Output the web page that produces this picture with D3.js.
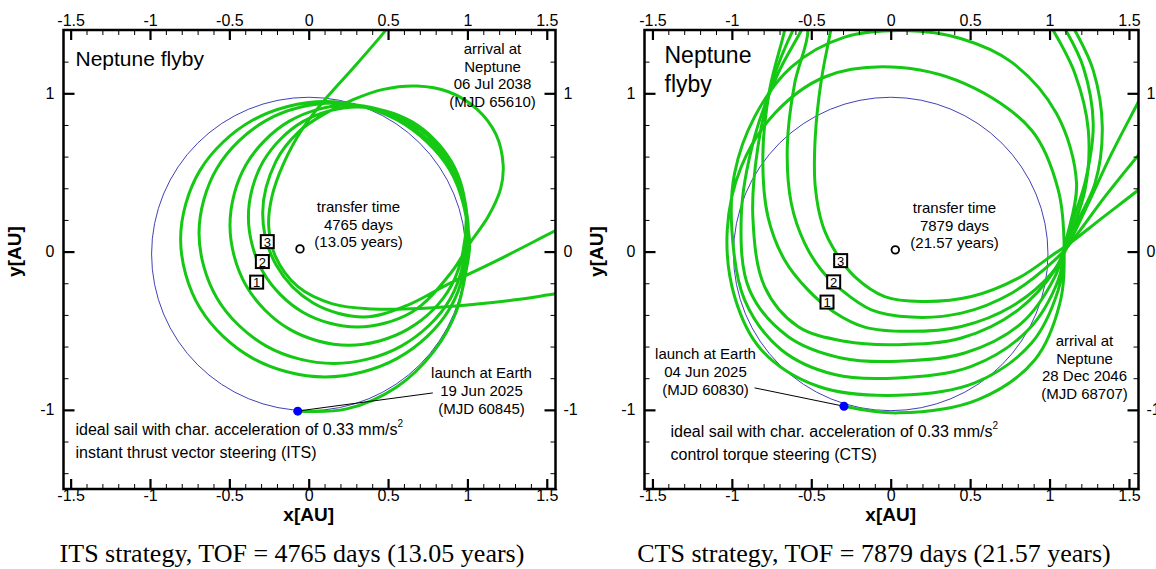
<!DOCTYPE html>
<html><head><meta charset="utf-8">
<script src="https://cdn.jsdelivr.net/npm/d3@7/dist/d3.min.js"></script>
<style>
body{margin:0;background:#fff;}
</style></head><body>
<svg id="chart" width="1156" height="569" font-family="Arial, 'Liberation Sans', sans-serif"></svg>
<script>
// ---------- tick values ----------
const xMajorTicks = [-1.5, -1, -0.5, 0, 0.5, 1, 1.5];
const xMinorTicks = [-1.4,-1.3,-1.2,-1.1,-0.9,-0.8,-0.7,-0.6,-0.4,-0.3,-0.2,-0.1,0.1,0.2,0.3,0.4,0.6,0.7,0.8,0.9,1.1,1.2,1.3,1.4];
const yMajorTicks = [-1, 0, 1];
const yMinorTicks = [-1.4,-1.2,-0.8,-0.6,-0.4,-0.2,0.2,0.4,0.6,0.8,1.2];

// ---------- Earth orbit (AU) ----------
const earthOrbit = [0, -0.015, 0.99];   // centre x, centre y, radius

// ---------- ITS panel (AU) ----------
const itsSpiral = [
 [-0.069,-1.008],[0.239,-0.994],[0.555,-0.855],[0.786,-0.634],[0.929,-0.382],[0.992,-0.120],
 [1.013,0.078],[0.891,0.513],[0.558,0.831],[0.103,0.948],[-0.352,0.831],[-0.685,0.513],
 [-0.807,0.078],[-0.685,-0.357],[-0.352,-0.675],[0.103,-0.792],[0.558,-0.675],[0.891,-0.357],
 [1.007,0.116],[0.893,0.528],[0.583,0.829],[0.158,0.939],[-0.267,0.829],[-0.577,0.528],
 [-0.691,0.116],[-0.577,-0.296],[-0.267,-0.597],[0.158,-0.707],[0.583,-0.597],[0.893,-0.296],
 [1.000,0.167],[0.900,0.547],[0.626,0.824],[0.252,0.926],[-0.122,0.824],[-0.396,0.547],
 [-0.496,0.167],[-0.396,-0.213],[-0.122,-0.490],[0.252,-0.592],[0.626,-0.490],[0.900,-0.213],
 [0.992,0.219],[0.900,0.567],[0.649,0.821],[0.306,0.914],[-0.037,0.821],[-0.288,0.567],
 [-0.380,0.219],[-0.288,-0.129],[-0.037,-0.383],[0.306,-0.476],[0.649,-0.383],[0.900,-0.129],
 [1.02,0.06],[1.13,0.22],[1.21,0.40],[1.225,0.55],[1.18,0.74],[1.06,0.90],[0.88,1.01],[0.68,1.046],
 [0.47,1.025],[0.28,0.96],[0.10,0.87],
 [-0.06,0.76],[-0.205,0.573],[-0.290,0.244],[-0.205,-0.085],[0.028,-0.325],[0.347,-0.413],
 [0.62,-0.34],[0.87,-0.21],[1.185,-0.057],[1.555,0.132],[1.75,0.23]
];
const itsReturn = [
 [0.60,1.55],[0.481,1.393],[0.282,1.162],[0.113,0.973],[-0.034,0.784],[-0.160,0.553],[-0.233,0.342],
 [-0.252,0.16],[-0.21,-0.03],[-0.07,-0.22],[0.15,-0.33],[0.40,-0.362],[0.70,-0.36],[1.0,-0.338],[1.30,-0.305],[1.555,-0.267],[1.75,-0.24]
];
const itsLaunch = [-0.069, -1.008];
const itsSun = [-0.055, 0.017];
const itsLeader = [[-0.05,-1.005],[0.782,-0.893]];
const itsMarkers = [[-0.328,-0.193],[-0.292,-0.063],[-0.261,0.063]];
const itsMarkerLabels = ["1","2","3"];

// ---------- CTS panel (AU) ----------
const ctsArcA = [
 [-0.294,-0.977],[0.046,-1.019],[0.550,-0.935],[0.908,-0.683],[1.065,-0.326],[1.092,0.011],
 [1.055,0.389],[0.887,0.767],[0.466,1.061],[0.004,1.166],[-0.416,1.103],[-0.731,0.872],[-0.941,0.536],[-1.029,0.137],
 [-0.983,-0.284],[-0.815,-0.620],[-0.458,-0.851],[0.046,-0.908],[0.529,-0.830],[0.887,-0.578],[1.055,-0.242],[1.097,0.032],
 [1.170,0.431],[1.044,0.872],[0.761,1.197],[0.445,1.345],[0.088,1.397],[-0.290,1.355],[-0.626,1.166],[-0.857,0.851],[-0.983,0.494],[-1.000,0.137],
 [-0.920,-0.305],[-0.689,-0.620],[-0.353,-0.777],[0.046,-0.798],[0.508,-0.725],[0.866,-0.494],[1.055,-0.179],[1.101,0.053],
 [1.227,0.452],[1.275,0.809],[1.212,1.166],[1.103,1.397],[0.971,1.607]
];
const ctsArcB = [
 [-0.458,1.607],[-0.563,1.397],[-0.710,1.124],[-0.857,0.725],[-0.941,0.221],[-0.889,-0.242],[-0.647,-0.536],[-0.311,-0.672],
 [0.046,-0.693],[0.466,-0.641],[0.824,-0.452],[1.034,-0.158],[1.105,0.053],[1.286,0.431],[1.332,0.788],[1.275,1.145],[1.160,1.397],[1.034,1.607]
];
const ctsArcC = [
 [-0.500,1.607],[-0.616,1.397],[-0.742,1.082],[-0.836,0.662],[-0.868,0.221],[-0.794,-0.221],[-0.584,-0.473],[-0.290,-0.567],
 [0.046,-0.588],[0.445,-0.546],[0.803,-0.368],[1.034,-0.116],[1.109,0.053],[1.223,0.389],[1.244,0.767],[1.160,1.124],[1.023,1.397],[0.887,1.607]
];
const ctsArcD = [
 [-0.626,1.607],[-0.668,1.397],[-0.763,1.019],[-0.805,0.599],[-0.773,0.221],[-0.668,-0.053],[-0.521,-0.242],[-0.363,-0.378],
 [-0.164,-0.477],[0.109,-0.504],[0.445,-0.473],[0.761,-0.347],[1.013,-0.137],[1.118,0.042],[1.244,0.305],[1.391,0.620],[1.559,0.945],[1.685,1.187]
];
const ctsArcE = [
 [-0.563,1.607],[-0.521,1.397],[-0.605,1.061],[-0.651,0.662],[-0.626,0.305],[-0.542,0.053],[-0.437,-0.116],[-0.311,-0.242],
 [-0.122,-0.368],[0.130,-0.414],[0.445,-0.389],[0.761,-0.263],[1.034,-0.053],[1.122,0.042],[1.349,0.347],[1.559,0.609],[1.727,0.809]
];
const ctsArcF = [
 [-0.342,1.607],[-0.378,1.397],[-0.437,1.082],[-0.475,0.725],[-0.475,0.410],[-0.426,0.158],[-0.342,-0.011],[-0.227,-0.158],
 [-0.038,-0.284],[0.193,-0.315],[0.508,-0.284],[0.803,-0.168],[1.034,-0.011],[1.128,0.053],[1.328,0.210],[1.559,0.389],[1.769,0.557]
];
const ctsLaunch = [-0.294, -0.977];
const ctsSun = [0.029, 0.011];
const ctsLeader = [[-0.857,-0.861],[-0.31,-0.974]];
const ctsMarkers = [[-0.401,-0.319],[-0.359,-0.191],[-0.315,-0.057]];
const ctsMarkerLabels = ["1","2","3"];

// ---------- texts ----------
const itsTitle = ["Neptune flyby"];
const itsArrival = ["arrival at","Neptune","06 Jul 2038","(MJD 65610)"];
const itsTransfer = ["transfer time","4765 days","(13.05 years)"];
const itsLaunchText = ["launch at Earth","19 Jun 2025","(MJD 60845)"];
const itsNotes = ["ideal sail with char. acceleration of 0.33 mm/s","instant thrust vector steering (ITS)"];
const itsCaption = "ITS strategy, TOF = 4765 days (13.05 years)";

const ctsTitle = ["Neptune","flyby"];
const ctsArrival = ["arrival at","Neptune","28 Dec 2046","(MJD 68707)"];
const ctsTransfer = ["transfer time","7879 days","(21.57 years)"];
const ctsLaunchText = ["launch at Earth","04 Jun 2025","(MJD 60830)"];
const ctsNotes = ["ideal sail with char. acceleration of 0.33 mm/s","control torque steering (CTS)"];
const ctsCaption = "CTS strategy, TOF = 7879 days (21.57 years)";

const yDomain = [-1.5, 1.4];
const GREEN = "#14c814";
const SANS = "Arial, 'Liberation Sans', sans-serif";

const svg = d3.select("#chart");

function drawPanel(cfg){
  const g = svg.append("g").attr("transform", `translate(${cfg.left},${cfg.top})`);
  const W = cfg.width, H = cfg.height;
  const x = d3.scaleLinear().domain(cfg.xDomain).range([0, W]);
  const y = d3.scaleLinear().domain(yDomain).range([H, 0]);

  g.append("clipPath").attr("id", cfg.id + "clip").append("rect")
    .attr("x",0).attr("y",0).attr("width",W).attr("height",H);
  const plot = g.append("g").attr("clip-path", `url(#${cfg.id}clip)`);

  plot.append("ellipse")
    .attr("cx", x(earthOrbit[0])).attr("cy", y(earthOrbit[1]))
    .attr("rx", x(earthOrbit[2]) - x(0)).attr("ry", y(0) - y(earthOrbit[2]))
    .attr("fill","none").attr("stroke","#2b2bb0").attr("stroke-width",0.9);

  const line = d3.line().x(d=>x(d[0])).y(d=>y(d[1])).curve(d3.curveCatmullRom.alpha(0.5));
  cfg.arcs.forEach(a=>{
    plot.append("path").attr("d", line(a)).attr("fill","none")
      .attr("stroke",GREEN).attr("stroke-width",3).attr("stroke-linejoin","round");
  });

  plot.append("line")
    .attr("x1", x(cfg.leader[0][0])).attr("y1", y(cfg.leader[0][1]))
    .attr("x2", x(cfg.leader[1][0])).attr("y2", y(cfg.leader[1][1]))
    .attr("stroke","#000").attr("stroke-width",1);

  plot.append("circle").attr("cx", x(cfg.launch[0])).attr("cy", y(cfg.launch[1]))
    .attr("r",4.5).attr("fill","#0000ff");
  plot.append("circle").attr("cx", x(cfg.sun[0])).attr("cy", y(cfg.sun[1]))
    .attr("r",3.8).attr("fill","#fff").attr("stroke","#000").attr("stroke-width",1.8);

  cfg.markers.forEach((m,i)=>{
    const mg = plot.append("g").attr("transform",`translate(${x(m[0])},${y(m[1])})`);
    mg.append("rect").attr("x",-6.5).attr("y",-6.5).attr("width",13).attr("height",13)
      .attr("fill","#fff").attr("stroke","#000").attr("stroke-width",2);
    mg.append("text").attr("text-anchor","middle").attr("y",5).attr("font-size",13).text(cfg.markerLabels[i]);
  });

  g.append("rect").attr("x",0).attr("y",0).attr("width",W).attr("height",H)
    .attr("fill","none").attr("stroke","#000").attr("stroke-width",2.5);

  const fmt = d => String(d);
  function styleAxis(sel, major){
    sel.select(".domain").remove();
    sel.attr("font-family", SANS).attr("font-size", 16);
    sel.selectAll(".tick line").attr("stroke","#000").attr("stroke-width", major?2.2:1);
    sel.selectAll("text").attr("fill","#000");
  }
  styleAxis(g.append("g").attr("transform",`translate(0,${H})`).call(d3.axisBottom(x).tickValues(xMajorTicks).tickSize(-10).tickPadding(1).tickFormat(fmt)), true);
  styleAxis(g.append("g").attr("transform",`translate(0,${H})`).call(d3.axisBottom(x).tickValues(xMinorTicks).tickSize(-5).tickFormat("")), false);
  styleAxis(g.append("g").call(d3.axisTop(x).tickValues(xMajorTicks).tickSize(-10).tickPadding(4).tickFormat(fmt)), true);
  styleAxis(g.append("g").call(d3.axisTop(x).tickValues(xMinorTicks).tickSize(-5).tickFormat("")), false);
  styleAxis(g.append("g").call(d3.axisLeft(y).tickValues(yMajorTicks).tickSize(-11).tickPadding(9).tickFormat(fmt)), true);
  styleAxis(g.append("g").call(d3.axisLeft(y).tickValues(yMinorTicks).tickSize(-5).tickFormat("")), false);
  styleAxis(g.append("g").attr("transform",`translate(${W},0)`).call(d3.axisRight(y).tickValues(yMajorTicks).tickSize(-11).tickPadding(8).tickFormat(fmt)), true);
  styleAxis(g.append("g").attr("transform",`translate(${W},0)`).call(d3.axisRight(y).tickValues(yMinorTicks).tickSize(-5).tickFormat("")), false);

  g.append("text").attr("x", x(0)).attr("y", H + 32).attr("text-anchor","middle")
    .attr("font-size",19).attr("font-weight","bold").text("x[AU]");
  g.append("text").attr("transform",`translate(${cfg.yTitleX},${y(0)}) rotate(-90)`).attr("text-anchor","middle")
    .attr("font-size",19).attr("font-weight","bold").text("y[AU]");

  function block(lines, px, py, size, lh, anchor){
    const t = g.append("text").attr("font-size",size).attr("text-anchor",anchor);
    lines.forEach((l,i)=> t.append("tspan").attr("x",px).attr("y",py + i*lh).text(l));
    return t;
  }
  block(cfg.title, cfg.titlePos[0], cfg.titlePos[1], cfg.titleSize, cfg.titleLH, "start");
  block(cfg.arrival, cfg.arrivalPos[0], cfg.arrivalPos[1], 15, 17.7, "middle");
  block(cfg.transfer, cfg.transferPos[0], cfg.transferPos[1], 15, 17.7, "middle");
  block(cfg.launchText, cfg.launchPos[0], cfg.launchPos[1], 15, 18, "middle");
  const n1 = g.append("text").attr("x",cfg.notesPos[0]).attr("y",cfg.notesPos[1]).attr("font-size",16);
  n1.append("tspan").text(cfg.notes[0]);
  n1.append("tspan").attr("font-size",10).attr("dy",-8).text("2");
  g.append("text").attr("x",cfg.notesPos[0]).attr("y",cfg.notesPos[1]+23).attr("font-size",16).text(cfg.notes[1]);

  svg.append("text").attr("x", cfg.left + W/2 - 17.5).attr("y", 562).attr("text-anchor","middle")
    .style("font-family","'Liberation Serif','Times New Roman',Times,serif").attr("font-size",26).text(cfg.caption);
}

drawPanel({
  id:"its", left:63.5, top:30, width:492, height:459, xDomain:[-1.545,1.555],
  arcs:[itsSpiral, itsReturn], launch:itsLaunch, sun:itsSun, leader:itsLeader,
  markers:itsMarkers, markerLabels:itsMarkerLabels,
  title:itsTitle, titlePos:[12,36], titleSize:21, titleLH:28,
  arrival:itsArrival, arrivalPos:[429,24],
  transfer:itsTransfer, transferPos:[295,182],
  launchText:itsLaunchText, launchPos:[418,348],
  notes:itsNotes, notesPos:[12,405], caption:itsCaption, yTitleX:-43
});
drawPanel({
  id:"cts", left:644.5, top:30, width:494, height:459, xDomain:[-1.55,1.56],
  arcs:[ctsArcA, ctsArcB, ctsArcC, ctsArcD, ctsArcE, ctsArcF], launch:ctsLaunch, sun:ctsSun, leader:ctsLeader,
  markers:ctsMarkers, markerLabels:ctsMarkerLabels,
  title:ctsTitle, titlePos:[20,33], titleSize:23, titleLH:28.5,
  arrival:ctsArrival, arrivalPos:[440,316],
  transfer:ctsTransfer, transferPos:[310,183],
  launchText:ctsLaunchText, launchPos:[61,329],
  notes:ctsNotes, notesPos:[26,407], caption:ctsCaption, yTitleX:-42
});
</script>
</body></html>
